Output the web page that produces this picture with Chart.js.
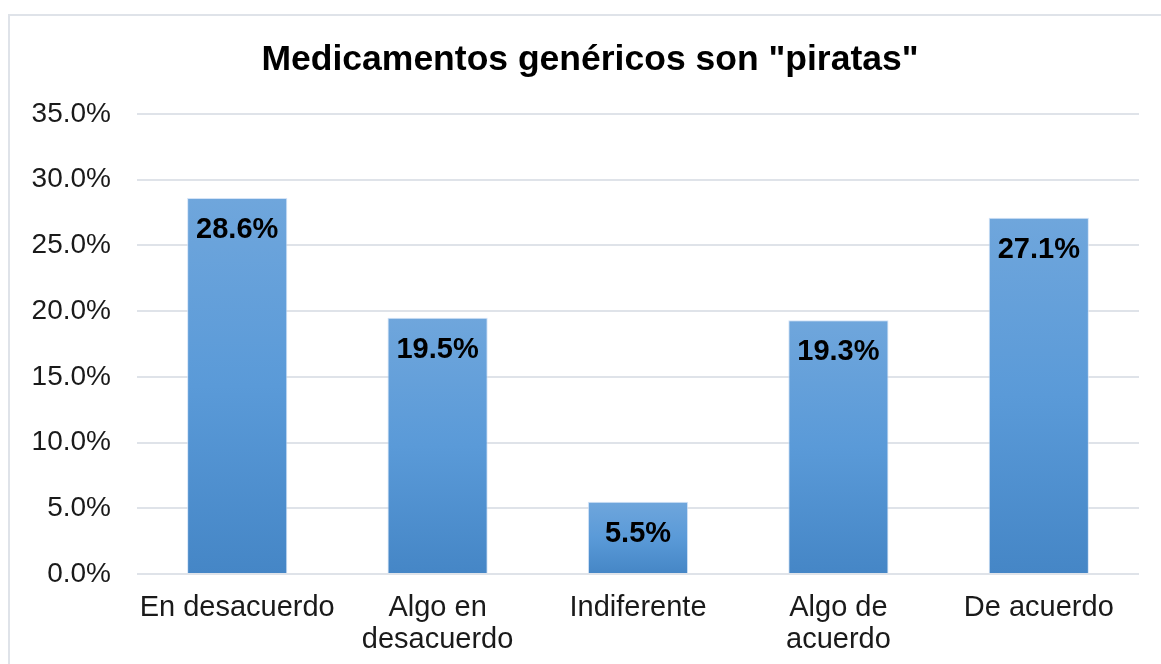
<!DOCTYPE html>
<html>
<head>
<meta charset="utf-8">
<script src="https://cdn.jsdelivr.net/npm/chart.js@4.4.1/dist/chart.umd.min.js"></script>
<style>
    html, body { margin: 0; padding: 0; background: #fff; overflow: hidden; }
    #wrap { position: relative; width: 1161px; height: 664px; }
    #frame {
        position: absolute; left: 8px; top: 14px; width: 1200px; height: 700px;
        border-left: 2px solid #dfe3e9; border-top: 2px solid #dfe3e9;
        pointer-events: none;
    }
</style>
</head>
<body>
<div id="wrap">
    <canvas id="chart" width="1161" height="664"></canvas>
    <div id="frame"></div>
</div>
<script>
// --- Data ---
const CATEGORIES = ['En desacuerdo', ['Algo en', 'desacuerdo'], 'Indiferente', ['Algo de', 'acuerdo'], 'De acuerdo'];
const VALUES = [28.6, 19.5, 5.5, 19.3, 27.1];
const Y_MAX = 35;
const Y_STEP = 5;
const TITLE = 'Medicamentos genéricos son "piratas"';

const FONT = '"Liberation Sans", Arial, sans-serif';

// gradient per bar: lighter at top, darker at base
function barGradient(ctx) {
    const chart = ctx.chart;
    if (!chart.chartArea) return '#5b9bd5';
    const y = chart.scales.y;
    const top = y.getPixelForValue(ctx.raw);
    const bot = y.getPixelForValue(0);
    const g = chart.ctx.createLinearGradient(0, top, 0, bot);
    g.addColorStop(0, '#6fa6dc');
    g.addColorStop(0.5, '#5a9ad8');
    g.addColorStop(1, '#4586c6');
    return g;
}

// value labels inside the top of each bar
const valueLabels = {
    id: 'valueLabels',
    afterDatasetsDraw(chart) {
        const ctx = chart.ctx;
        const meta = chart.getDatasetMeta(0);
        ctx.save();
        ctx.font = 'bold 29px ' + FONT;
        ctx.fillStyle = '#000';
        ctx.textAlign = 'center';
        ctx.textBaseline = 'middle';
        meta.data.forEach((bar, i) => {
            ctx.fillText(VALUES[i].toFixed(1) + '%', bar.x, bar.y + 32);
        });
        ctx.restore();
    }
};

// title centred over the whole frame (not the canvas), so drawn by hand
const frameTitle = {
    id: 'frameTitle',
    afterDraw(chart) {
        const ctx = chart.ctx;
        ctx.save();
        ctx.font = 'bold 35.5px ' + FONT;
        ctx.fillStyle = '#000';
        ctx.textAlign = 'center';
        ctx.textBaseline = 'middle';
        ctx.fillText(TITLE, 590, 60);
        ctx.restore();
    }
};

new Chart(document.getElementById('chart'), {
    type: 'bar',
    data: {
        labels: CATEGORIES,
        datasets: [{
            data: VALUES,
            backgroundColor: barGradient,
            borderColor: 'rgba(200,220,245,0.8)',
            borderWidth: 1,
            barPercentage: 0.5,
            categoryPercentage: 1
        }]
    },
    options: {
        responsive: false,
        animation: false,
        layout: { padding: { left: 0, right: 22, top: 114, bottom: 0 } },
        plugins: {
            legend: { display: false },
            tooltip: { enabled: false },
            title: { display: false }
        },
        scales: {
            x: {
                grid: { display: false },
                border: { display: false },
                ticks: {
                    color: '#1a1a1a',
                    font: { family: FONT, size: 29, lineHeight: 1.1 },
                    padding: 10,
                    maxRotation: 0,
                    autoSkip: false
                },
                afterFit(scale) { scale.height = 90; }
            },
            y: {
                min: 0,
                max: Y_MAX,
                grid: { color: '#dfe3e9', lineWidth: 2, drawTicks: false },
                border: { display: false },
                ticks: {
                    stepSize: Y_STEP,
                    color: '#1a1a1a',
                    font: { family: FONT, size: 28 },
                    padding: 26,
                    callback: v => v.toFixed(1) + '%'
                },
                afterFit(scale) { scale.width = 137; }
            }
        }
    },
    plugins: [valueLabels, frameTitle]
});
</script>
</body>
</html>
